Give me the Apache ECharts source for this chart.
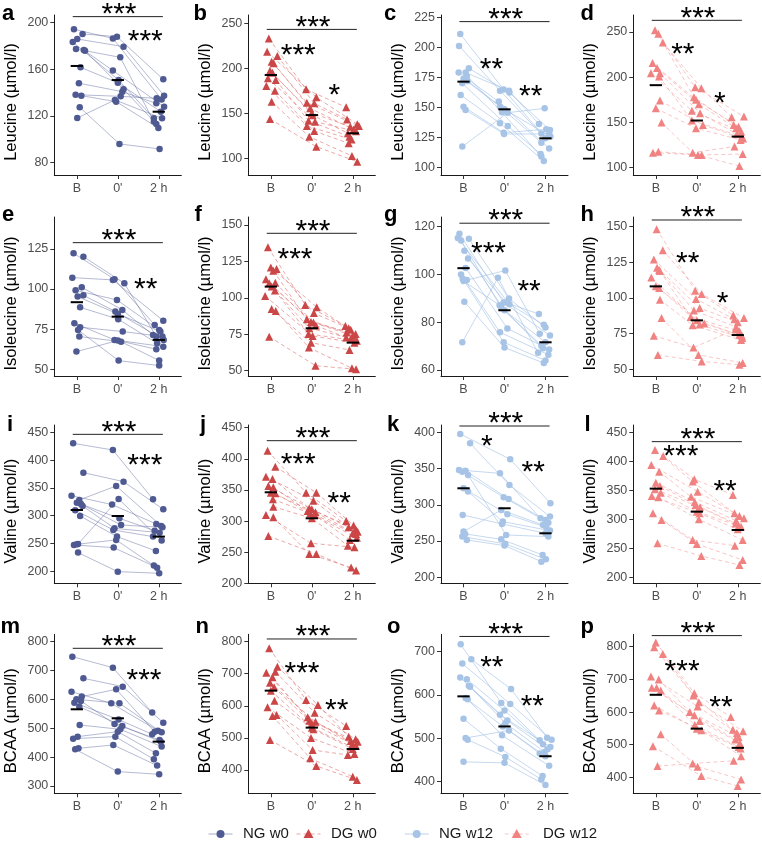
<!DOCTYPE html>
<html><head><meta charset="utf-8">
<script src="https://cdn.jsdelivr.net/npm/echarts@6/dist/echarts.min.js"></script>
<style>html,body{margin:0;padding:0;background:#fff}#c{width:762px;height:847px}</style>
</head><body><div id="c"></div>
<script>
// ---------------- data ----------------
const timeLabels = ['B', "0'", '2 h'];
const legendNames = ['NG w0', 'DG w0', 'NG w12', 'DG w12'];

// each row = one subject: [B, 0', 2 h]; jitter = horizontal offsets of the points
const a_vals = [[194.3,186.5,134],[190.3,188,151.3],[186,179.4,137.3],[183.4,150.7,117.8],[177.4,170.2,115],[176.5,158.8,127.8],[175.8,142.7,113],[161.6,148.4,123.5],[148,140.7,130.7],[138.1,136.7,135],[137.3,132.1,109.5],[127.3,95.8,91.5],[118.1,133.6,117.8]];
const a_jit = [[-.07,-.12,.07],[.14,-.02,.11],[.01,.14,.13],[-.10,.02,-.12],[-.02,.06,-.12],[.17,-.12,.13],[.2,.14,-.06],[.09,0,.05],[.05,.11,-.06],[-.03,.07,-.05],[.11,-.04,-.01],[.07,.04,.02],[.01,-.07,.08]];
const a_med = [162.8,150.7,123.5];
const b_vals = [[233.3,176.7,156.7],[218.5,167.8,138],[213.7,161.1,143.3],[207.4,161.9,135.9],[205.6,155.6,132.2],[197.4,150.5,135.2],[195,148,127.8],[188.9,140.7,130],[187,141.9,124],[180.4,135.9,121],[175.2,130.4,116.7],[163,124,102.6],[143.7,113,96.3]];
const b_jit = [[-.05,-.14,-.16],[-.09,.11,.11],[.16,.06,-.14],[.02,-.12,.15],[.07,-.04,.02],[-.02,0,-.06],[.04,.02,-.12],[-.07,.08,.08],[.12,-.08,-.08],[-.11,-.12,-.03],[.1,.06,-.1],[.02,-.06,-.02],[-.02,.11,.11]];
const b_med = [192.6,148.1,127.8];
const c_vals = [[211.1,165,128.5],[201.2,164,124.4],[182.6,162.4,131.3],[179,154.9,116],[179,164,136.3],[176.2,146,109.2],[174,150.7,120.8],[172,148.5,126],[170.1,134.6,111.4],[160.4,136.9,105.5],[150.7,129.1,131.9],[148,128,128],[117.5,145.7,149.3]];
const c_jit = [[-.08,-.02,-.1],[-.11,-.11,0],[.13,.12,.11],[-.12,-.14,.09],[.05,.11,-.16],[.08,-.06,-.1],[0,-.11,-.1],[.1,0,.12],[-.03,.08,-.12],[-.07,-.11,-.04],[0,-.02,.02],[.05,-.01,.09],[-.03,.08,-.02]];
const c_med = [171.5,148.5,124.4];
const d_vals = [[251.9,188.9,156.3],[248,177.8,147],[238.5,187.8,155.6],[215.6,174.8,145],[210,170,143.3],[204.4,162.6,139.6],[204.4,160,137],[200.7,151.9,134.1],[174,147,132],[165.5,143.3,130.4],[149.6,116.3,123],[117.4,113.7,114.8],[116.3,113.7,101.5]];
const d_jit = [[-.02,-.04,.15],[.06,-.07,-.1],[.17,.11,-.15],[-.08,-.02,.02],[.03,.05,-.04],[-.12,-.12,.08],[.1,.08,-.02],[.08,-.12,.1],[.1,.15,.13],[0,-.02,.07],[.14,-.1,-.08],[.06,.12,.12],[-.07,.03,.04]];
const d_med = [191.1,151.9,134.1];
const e_vals = [[122.3,106.1,77.6],[120.2,103.6,70.4],[107.1,105.7,80.3],[101.1,87,71.4],[99.2,93.2,74.5],[96.1,86,68.3],[95.3,84.5,73.5],[88.6,81.2,66.2],[78.7,68.3,64.1],[76.2,73.5,70.4],[74.5,55.4,52.3],[70.4,67.2,55.4],[61,67.9,62.5]];
const e_jit = [[-.08,-.08,-.1],[.16,.16,-.06],[-.11,-.12,.11],[.12,.11,-.14],[-.03,-.02,.01],[.16,-.06,.12],[.02,0,.04],[.08,.01,-.04],[-.06,-.08,.11],[.08,.12,.09],[.03,.02,.01],[.06,.08,.01],[-.01,0,-.06]];
const e_med = [91.8,82.8,68.3];
const f_vals = [[134.7,95.1,80.7],[120.9,93.5,78],[119.8,89.5,79.1],[118.6,85.2,76.1],[112.7,83.4,75.2],[110.4,83,74],[110,81,72.7],[107.7,79.1,72.2],[105,75.2,70.5],[101.3,73.8,69.2],[92.3,69.2,64.2],[91,65.8,51.6],[73.3,53.4,50.9]];
const f_jit = [[-.07,-.16,-.18],[0,.12,-.05],[.14,.05,-.1],[.06,-.12,-.15],[-.12,-.02,.07],[.11,.04,0],[-.04,.1,-.16],[.02,-.06,-.04],[.1,-.08,.1],[-.14,.02,.04],[.02,-.02,-.08],[.12,-.07,-.02],[-.04,.09,.08]];
const f_med = [107.7,79.1,69.2];
const g_vals = [[117,88.2,74.4],[115.2,87.5,78.9],[114.9,89.9,77.8],[114.2,86.1,69.1],[109.9,85,71.6],[106.6,88.2,83.4],[102.7,77.4,68.6],[99.9,75.8,66.4],[98.2,71.6,64],[97.6,101.6,75.2],[97.2,87.1,70.2],[88.6,69.4,62.9],[71.6,98.6,67.2]];
const g_jit = [[-.1,-.02,.11],[-.14,.12,-.04],[.13,.11,0],[-.06,-.08,-.06],[.02,0,0],[.11,.04,-.16],[.05,.07,.09],[-.06,-.11,.07],[-.02,-.02,0],[.08,.02,-.14],[0,-.12,-.1],[.02,0,-.04],[-.03,-.16,-.18]];
const g_med = [102.6,85,71.6];
const h_vals = [[148.2,105.1,87.8],[133.4,102.8,85.9],[127,99.3,85],[121.2,92.9,83],[119.5,91.2,79.7],[118.9,86.6,76.7],[114.3,84.3,74],[108.1,82,73.5],[107,81.3,72],[98.8,80.9,70.5],[85.9,60.1,54.4],[73.5,65.2,78],[60.1,55.5,53.2]];
const h_jit = [[.02,-.04,-.11],[.17,.12,.15],[-.05,-.02,-.08],[.03,.07,0],[.08,-.07,-.04],[.1,-.15,.04],[-.11,0,.04],[0,.18,.1],[.08,.07,.11],[.1,-.1,.08],[.14,.04,.12],[-.05,-.08,-.05],[.05,.12,.04]];
const h_med = [108.1,84.3,74];
const i_vals = [[430.2,418.2,329.5],[377.5,361.3,311.5],[336.1,320,285.1],[328.3,353.5,281.5],[323.5,295.3,273.1],[321.1,283.3,279.1],[317.5,277.3,269.5],[310,274.3,262.4],[299.5,262.4,236.6],[249.2,330.1,255.2],[248.6,256.4,210.2],[247.4,242.6,206.6],[233.6,199.4,196.4]];
const i_jit = [[-.09,-.12,-.14],[.16,.14,.11],[-.13,-.14,-.06],[.06,-.04,.06],[0,.04,-.1],[.1,.08,.09],[.14,-.08,.02],[-.04,-.11,-.14],[.08,-.02,-.07],[.03,.02,.07],[0,-.04,-.12],[-.07,-.1,-.04],[.03,0,.01]];
const i_med = [310.3,299.5,262.4];
const j_vals = [[413,345.6,300.1],[387.4,345.6,293],[371.3,332.8,289.9],[367.6,320.5,286.7],[356.3,318.9,283],[354.2,316.2,280.3],[345.6,314,279.2],[344.5,312.4,273],[335,309.8,269.6],[323.1,304.4,260.5],[309.8,264.3,257.8],[306,247.1,225.2],[276,247.1,220.4]];
const j_jit = [[-.08,-.14,-.16],[.11,.11,.02],[-.12,.04,-.1],[.04,-.06,.07],[-.06,0,.12],[.06,-.1,0],[0,.09,.08],[.11,-.04,.1],[.05,.07,-.07],[.06,0,-.12],[-.12,-.02,.04],[.06,-.06,-.04],[-.06,.11,.08]];
const j_med = [346.2,304.4,268.5];
const k_vals = [[397.7,362.8,302.1],[384.8,327.4,283.7],[348,343.4,281.4],[347.1,308,279.1],[345.7,310.3,275.4],[341.1,258.4,256.1],[322.8,286.9,269],[318.2,276.8,264.4],[286,273.6,260.7],[263,292.9,272.2],[259.8,252.4,230.8],[256.1,246,224.8],[251.5,243.7,221.6]];
const k_jit = [[-.08,.14,.12],[.16,.12,.11],[-.11,-.11,-.12],[.05,.1,0],[-.03,-.02,.07],[.11,.04,.07],[0,.07,.02],[.11,-.04,.11],[-.02,-.06,0],[0,-.08,-.06],[.04,-.08,-.07],[-.03,.02,.01],[.08,0,-.1]];
const k_med = [322.8,295.2,260.7];
const l_vals = [[419.5,365,310.3],[409.2,369,342],[393.7,347.7,305.8],[382.2,338.9,301.7],[363.2,330,297.7],[357.5,324.7,293],[351.7,320.7,288.5],[346,313.2,287.4],[340,310.3,282.8],[338,300,264.4],[310.3,264.4,254.6],[298.9,257.5,229.9],[258.6,236.8,221.3]];
const l_jit = [[-.02,-.1,-.08],[.18,-.06,-.12],[-.11,.02,.04],[.08,-.14,.15],[0,-.05,-.04],[.1,-.03,-.05],[-.02,.08,.02],[.12,0,.08],[-.1,.07,0],[.06,.05,.12],[-.07,-.1,-.07],[.14,0,.12],[.04,.11,.04]];
const l_med = [352.9,313.2,281.6];
const m_vals = [[748,709.9,554.1],[673,644.1,519.4],[626.8,586.4,491.7],[609.5,634.9,488.2],[600.3,586.4,485.9],[594.5,514.8,459.4],[588.7,530,479],[574.8,507.9,453],[511.3,496.3,436.3],[470.9,488.2,413.2],[463.9,470.9,392.4],[430.5,442,370.5],[427,349.7,340.4]];
const m_jit = [[-.11,-.12,-.16],[.16,.12,.11],[-.13,-.16,-.02],[.12,-.04,-.1],[-.01,.04,.07],[.1,-.08,.02],[-.06,.02,-.16],[.06,.11,.05],[.07,.06,.07],[.02,0,-.07],[-.09,-.06,-.12],[.04,-.11,-.04],[-.04,0,.01]];
const m_med = [565.6,534.4,453.6];
const n_vals = [[779.2,618.2,537.1],[722.1,602.6,503.9],[706.5,578.7,495.6],[703.4,564.1,490],[688.8,553.8,488.3],[672.2,550.6,481.1],[657.7,545,475],[647.3,532,472.7],[616,526.7,465.5],[595.3,500,449.9],[571.7,462.3,446.7],[568.3,436.3,379.2],[493.5,412.5,368.8]];
const n_jit = [[-.04,-.14,-.16],[.16,.15,-.1],[.11,.07,.07],[-.11,-.1,-.05],[.04,-.06,.12],[-.02,.09,0],[.08,0,.08],[0,0,-.04],[.09,.04,0],[-.08,-.02,.04],[.14,.02,-.12],[.04,-.04,0],[-.02,.11,.1]];
const n_med = [647.3,532,465.4];
const o_vals = [[716.8,581.7,495.4],[682.4,613.7,501.5],[672.5,579.4,496.9],[640.5,554.2,480.1],[636.6,564.1,486.2],[621.4,541.2,475],[619.1,535.1,468.7],[593.1,527.5,458.8],[590.1,506.9,436.6],[545,476.3,413],[500.7,518.3,464.9],[496.9,457.2,405.3],[445.8,443.5,392.4]];
const o_jit = [[-.07,-.08,-.14],[.19,.16,.04],[-.03,.14,.15],[-.08,-.11,.12],[.08,0,-.06],[.13,.07,.05],[.16,.02,-.02],[.05,-.04,0],[.1,-.06,.09],[0,-.09,-.07],[.05,.11,-.14],[.1,.02,-.1],[0,0,0]];
const o_med = [596.9,527.5,458.8];
const p_vals = [[813.2,657.9,584.8],[798,650.8,546.2],[777.7,630,541.1],[708.6,617.3,536.1],[699.5,600,524],[674.1,589.9,515.7],[674.1,572.6,505],[666,560,493.4],[620.3,549.2,488.3],[605.1,544.2,465],[532,432.5,393.9],[495.4,404.1,373.6],[434.5,442.7,450.8]];
const p_jit = [[0,-.06,-.17],[-.04,-.08,-.12],[.17,.05,.13],[-.12,.02,-.02],[.07,-.17,.02],[-.1,-.06,-.06],[.02,.07,.05],[.12,-.05,.02],[-.04,0,.07],[.08,.11,.08],[.12,.02,.08],[-.07,.11,0],[.04,-.1,-.1]];
const p_med = [652.8,549.2,490.4];

// y tick labels per panel
const t_leu = [[80,120,160,200],[100,150,200,250],[100,125,150,175,200,225],[100,150,200,250]];
const t_ile = [[50,75,100,125],[50,75,100,125,150],[60,80,100,120],[50,75,100,125,150]];
const t_val = [[200,250,300,350,400,450],[200,250,300,350,400,450],[200,250,300,350,400],[200,250,300,350,400,450]];
const t_bca = [[300,400,500,600,700,800],[400,500,600,700,800],[400,500,600,700],[400,500,600,700,800]];
// y axis limits per panel
const yLimits = [[69.1,206.6],[81.5,259.3],[93.9,226.9],[91.5,268.9],
                 [45.8,144.9],[46.3,155.5],[57.5,124.0],[45.3,156.7],
                 [178.4,463.2],[200,454.3],[191.7,410.1],[189.7,462.6],
                 [274.6,825.4],[327.3,822.9],[373.3,740],[351.3,838]];
// significance: overall bracket level, and pairwise stars [x, y, text]
const brackets = [205.2,243.3,221.4,263, 128.9,144.3,121.4,154.6, 446.4,429.1,408.7,433.9, 776.9,808.3,735,834];
const starsTop = ['***','***','***','***','***','***','***','***','***','***','***','***','***','***','***','***'];
const starsPair = [
 [[2.67,187,'***']], [[1.67,218.5,'***'],[2.55,174,'*']], [[1.68,184.5,'**'],[2.64,162.4,'**']], [[1.66,229.6,'**'],[2.56,174.8,'*']],
 [[2.68,101.9,'**']], [[1.59,128.7,'***']], [[1.61,110.3,'***'],[2.6,94.4,'**']], [[1.78,126.5,'**'],[2.63,98.8,'*']],
 [[2.66,397.2,'***']], [[1.67,397,'***'],[2.67,333.8,'**']], [[1.57,385.7,'*'],[2.7,350.3,'**']], [[1.61,415,'***'],[2.69,355.2,'**']],
 [[2.64,678.8,'***']], [[1.76,713.8,'***'],[2.61,597.4,'**']], [[1.69,671,'**'],[2.68,583.2,'**']], [[1.64,737,'***'],[2.59,625.4,'**']]
];
const yTitles = ['Leucine (µmol/l)','Isoleucine (µmol/l)','Valine (µmol/l)','BCAA (µmol/l)'];
const letters = 'abcdefghijklmnop'.split('');

// ---------------- layout / style ----------------
const FONT = '"Liberation Sans", Arial, Helvetica, sans-serif';
const cols = [54.3, 248.3, 441, 633.3];
const rows = [[15,175],[217,376],[425,583.3],[634.3,793.3]];
const PW = 127;
const letterPos = [[2,19.5],[193.5,19.5],[384,19.5],[580.5,19.5],[2,220.5],[194.5,220.5],[384,220.5],[580.5,220.5],
                   [7,430],[200,430],[387,430],[584.5,430],[0.5,632],[195.5,632],[387,632],[580.5,632]];
const groupStyle = [
 {symbol:'circle', size:6.5, color:'#4E5A91', line:'rgba(90,102,155,0.45)', dash:null},
 {symbol:'triangle', size:8, color:'#CB4646', line:'rgba(222,110,110,0.6)', dash:[4,3]},
 {symbol:'circle', size:6.5, color:'#A7C4E7', line:'rgba(160,192,230,0.6)', dash:null},
 {symbol:'triangle', size:8, color:'#F08282', line:'rgba(244,150,150,0.55)', dash:[4,3]}
];
const allVals = [a_vals,b_vals,c_vals,d_vals,e_vals,f_vals,g_vals,h_vals,i_vals,j_vals,k_vals,l_vals,m_vals,n_vals,o_vals,p_vals];
const allJit = [a_jit,b_jit,c_jit,d_jit,e_jit,f_jit,g_jit,h_jit,i_jit,j_jit,k_jit,l_jit,m_jit,n_jit,o_jit,p_jit];
const allMed = [a_med,b_med,c_med,d_med,e_med,f_med,g_med,h_med,i_med,j_med,k_med,l_med,m_med,n_med,o_med,p_med];
const allTicks = [t_leu,t_ile,t_val,t_bca];

const grids=[], xAxes=[], yAxes=[], series=[], graphics=[];
for (let i=0;i<16;i++){
  const r=Math.floor(i/4), c=i%4, st=groupStyle[c];
  const top=rows[r][0], h=rows[r][1]-rows[r][0], left=cols[c];
  const ticks=allTicks[r][c];
  grids.push({left:left, top:top, width:PW, height:h, outerBoundsMode:'none'});
  xAxes.push({type:'value', gridIndex:i, min:0.45, max:3.55,
    axisLine:{show:true, lineStyle:{color:'#1a1a1a', width:1}},
    axisTick:{show:true, customValues:[1,2,3], length:4, lineStyle:{color:'#333'}},
    axisLabel:{show:true, customValues:[1,2,3], formatter:v=>timeLabels[Math.round(v)-1], color:'#4D4D4D', fontSize:12.5, fontFamily:FONT, margin:7},
    splitLine:{show:false}});
  yAxes.push({type:'value', gridIndex:i, min:yLimits[i][0], max:yLimits[i][1],
    axisLine:{show:true, lineStyle:{color:'#1a1a1a', width:1}},
    axisTick:{show:true, customValues:ticks, length:4, lineStyle:{color:'#333'}},
    axisLabel:{show:true, customValues:ticks, color:'#4D4D4D', fontSize:12.5, fontFamily:FONT, margin:6},
    splitLine:{show:false}});
  const vals=allVals[i], jit=allJit[i];
  // subject lines
  series.push({type:'custom', xAxisIndex:i, yAxisIndex:i, silent:true, z:1, clip:false,
    data: vals.map((v,k)=>[1+jit[k][0], v[0], 2+jit[k][1], v[1], 3+jit[k][2], v[2]]),
    encode:{x:[0,2,4], y:[1,3,5]},
    renderItem:(params, api)=>({type:'polyline',
      shape:{points:[api.coord([api.value(0),api.value(1)]), api.coord([api.value(2),api.value(3)]), api.coord([api.value(4),api.value(5)])]},
      style:{stroke:st.line, lineWidth:1, lineDash:st.dash, fill:null}})});
  // points
  const pts=[];
  vals.forEach((v,k)=>{ for(let t=0;t<3;t++) pts.push([t+1+jit[k][t], v[t]]); });
  series.push({type:'scatter', xAxisIndex:i, yAxisIndex:i, silent:true, z:2, data:pts,
    symbol:st.symbol, symbolSize:st.size, itemStyle:{color:st.color, opacity:1}});
  // medians
  series.push({type:'custom', xAxisIndex:i, yAxisIndex:i, silent:true, z:4, clip:false,
    data: allMed[i].map((m,t)=>[t+1, m]), encode:{x:0,y:1},
    renderItem:(params, api)=>{const a=api.coord([api.value(0)-0.15, api.value(1)]), b=api.coord([api.value(0)+0.15, api.value(1)]);
      return {type:'line', shape:{x1:a[0],y1:a[1],x2:b[0],y2:b[1]}, style:{stroke:'#000', lineWidth:2}};}});
  // overall bracket + stars
  series.push({type:'custom', xAxisIndex:i, yAxisIndex:i, silent:true, z:4, clip:false,
    data:[[0.9, 3.1, brackets[i]]], encode:{x:[0,1], y:2},
    renderItem:(params, api)=>{const a=api.coord([api.value(0), api.value(2)]), b=api.coord([api.value(1), api.value(2)]);
      const mid=api.coord([2.03, api.value(2)]);
      return {type:'group', children:[
        {type:'line', shape:{x1:a[0],y1:a[1],x2:b[0],y2:b[1]}, style:{stroke:'#222', lineWidth:1}},
        {type:'text', x:mid[0], y:mid[1]-2, style:{text:starsTop[i], font:'30px '+FONT, fill:'#000', align:'center', verticalAlign:'middle'}}]};}});
  const sp=starsPair[i];
  series.push({type:'custom', xAxisIndex:i, yAxisIndex:i, silent:true, z:5, clip:false,
    data: sp.map(s=>[s[0], s[1]]), encode:{x:0,y:1},
    renderItem:(params, api)=>{const p=api.coord([api.value(0), api.value(1)]);
      return {type:'text', x:p[0], y:p[1]+4, style:{text:sp[params.dataIndex][2], font:'30px '+FONT, fill:'#000', align:'center', verticalAlign:'middle'}};}});
  // panel letter
  graphics.push({type:'text', left:letterPos[i][0], top:letterPos[i][1]-16.5, style:{text:letters[i], font:'bold 22px '+FONT, fill:'#000'}});
  // y title
  graphics.push({type:'text', x:left-43, y:(rows[r][0]+rows[r][1])/2+7, rotation:Math.PI/2,
    style:{text:yTitles[r], font:'16.5px '+FONT, fill:'#000', align:'center', verticalAlign:'middle'}});
}
// legend
const legY = 834;
const legItems = [[220.5,243],[308.5,331],[416.7,439],[516.7,543]];
legItems.forEach((it,g)=>{
  const st=groupStyle[g];
  graphics.push({type:'line', shape:{x1:it[0]-12,y1:legY,x2:it[0]+12,y2:legY}, style:{stroke:st.line, lineWidth:1.2, lineDash:st.dash}});
  if (st.symbol==='circle') graphics.push({type:'circle', shape:{cx:it[0], cy:legY, r:4}, style:{fill:st.color}});
  else graphics.push({type:'polygon', shape:{points:[[it[0],legY-5],[it[0]-5,legY+4],[it[0]+5,legY+4]]}, style:{fill:st.color}});
  graphics.push({type:'text', x:it[1], y:legY, style:{text:legendNames[g], font:'15px '+FONT, fill:'#1a1a1a', align:'left', verticalAlign:'middle'}});
});

const chart = echarts.init(document.getElementById('c'), null, {renderer:'canvas'});
chart.setOption({animation:false, backgroundColor:'#fff', grid:grids, xAxis:xAxes, yAxis:yAxes, series:series, graphic:graphics});
</script></body></html>
